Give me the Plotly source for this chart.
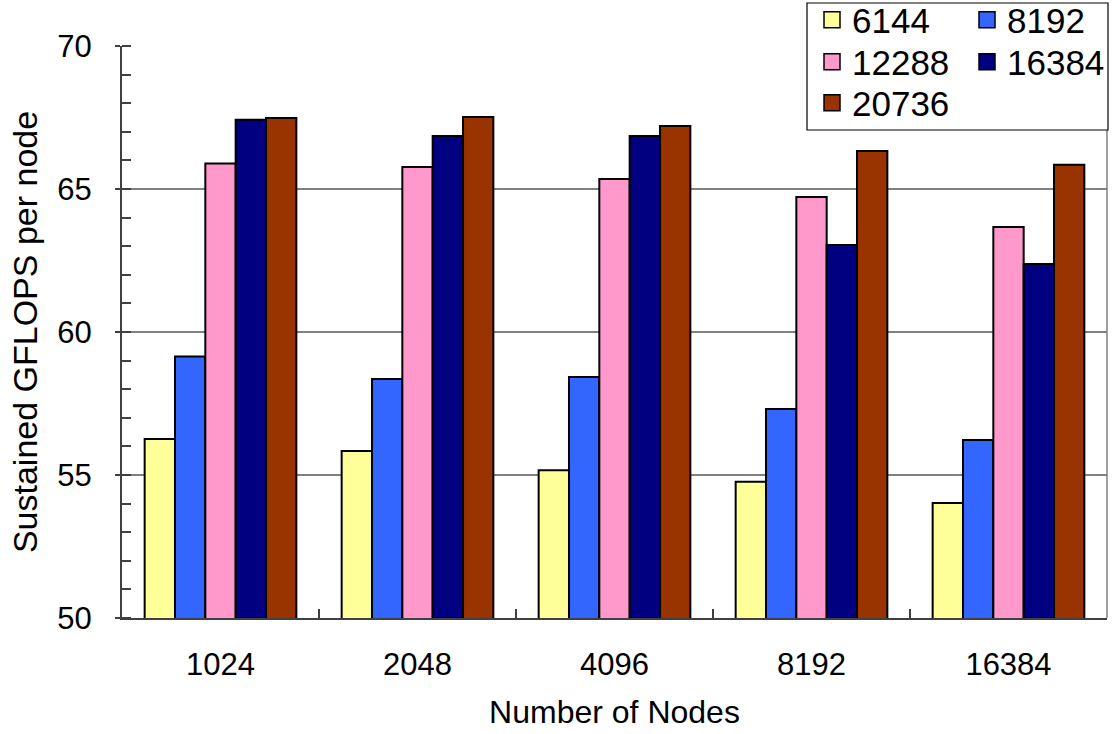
import plotly.graph_objects as go

categories = ["1024", "2048", "4096", "8192", "16384"]
series_names = ["6144", "8192", "12288", "16384", "20736"]
v6144 = [56.26, 55.84, 55.17, 54.76, 54.02]
v8192 = [59.14, 58.36, 58.43, 57.31, 56.22]
v12288 = [65.89, 65.77, 65.35, 64.72, 63.67]
v16384 = [67.42, 66.85, 66.85, 63.04, 62.38]
v20736 = [67.48, 67.52, 67.20, 66.33, 65.85]
series_values = [v6144, v8192, v12288, v16384, v20736]
colors = ["#FFFF99", "#3366FF", "#FF99CC", "#000080", "#993300"]
legend_ids = ["legend", "legend", "legend2", "legend2", "legend3"]

FONT = "Liberation Sans, Arial, sans-serif"

fig = go.Figure()
for name, vals, col in zip(series_names, series_values, colors):
    fig.add_trace(go.Bar(
        x=categories, y=vals, name=name, showlegend=False,
        marker=dict(color=col, line=dict(color="#000000", width=2)),
    ))
# legend entries (empty marker traces so the swatches can be larger)
for name, col, lg in zip(series_names, colors, legend_ids):
    fig.add_trace(go.Scatter(
        x=[None], y=[None], name=name, mode="markers", legend=lg,
        marker=dict(symbol="square", size=16, color=col,
                    line=dict(color="#000000", width=1.5)),
    ))

L, R, T, B = 122, 9, 46, 116
W, H = 1116, 734
pw, ph = W - L - R, H - T - B

def px_x(p):
    return (p - L) / pw

def px_y(p):
    return (H - B - p) / ph

def cx(p):
    return p / W

def cy(p):
    return (H - p) / H

leg_common = dict(orientation="h", font=dict(family=FONT, size=35, color="#000"),
                  bgcolor="rgba(0,0,0,0)", borderwidth=0, entrywidth=110,
                  xref="container", yref="container",
                  xanchor="left", yanchor="middle", itemwidth=30, tracegroupgap=0)
fig.update_layout(
    legend=dict(x=cx(812), y=cy(20), **leg_common),
    legend2=dict(x=cx(812), y=cy(62), **leg_common),
    legend3=dict(x=cx(812), y=cy(103), **leg_common),
)

fig.add_shape(type="rect", xref="paper", yref="paper",
              x0=px_x(807), x1=px_x(1108), y0=px_y(130), y1=px_y(3),
              line=dict(color="#000000", width=1.2), fillcolor="#FFFFFF", layer="above")
fig.add_shape(type="line", xref="paper", yref="paper", x0=1, x1=1, y0=0, y1=1,
              line=dict(color="#A0A0A0", width=2), layer="below")

fig.update_layout(
    width=W, height=H,
    margin=dict(l=L, r=R, t=T, b=B, pad=0, autoexpand=False),
    paper_bgcolor="#FFFFFF", plot_bgcolor="#FFFFFF",
    barmode="group", bargap=0.23, bargroupgap=0,
    font=dict(family=FONT, color="#000000"),
    showlegend=True,
)
fig.update_xaxes(
    type="category", tickson="boundaries", ticks="inside", ticklen=9,
    tickcolor="#404040", tickwidth=1.5,
    showline=True, linecolor="#404040", linewidth=2,
    showgrid=False, tickfont=dict(family=FONT, size=31),
    ticklabelstandoff=18,
    title=dict(text="Number of Nodes", font=dict(family=FONT, size=32), standoff=19),
    automargin=False,
)
fig.update_yaxes(
    range=[50, 70], dtick=5, tick0=50, ticks="outside", ticklen=5,
    tickcolor="#404040", tickwidth=1.5,
    showline=True, linecolor="#404040", linewidth=2,
    showgrid=True, gridcolor="#808080", gridwidth=1.5,
    minor=dict(dtick=1, ticks="inside", ticklen=9, tickcolor="#404040", tickwidth=1.5, showgrid=False),
    tickfont=dict(family=FONT, size=31),
    ticklabelstandoff=17,
    title=dict(text="Sustained GFLOPS per node", font=dict(family=FONT, size=34), standoff=9),
    zeroline=False, automargin=False,
)

fig.write_html("out.html", config={"displayModeBar": False},
               post_script="document.body.style.margin='0';")
